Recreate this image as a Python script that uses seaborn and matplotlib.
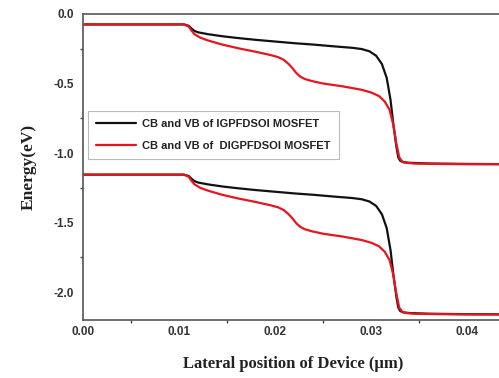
import numpy as np
import pandas as pd
import matplotlib
matplotlib.use("Agg")
import matplotlib.pyplot as plt
import seaborn as sns

# ---- data ----
x_ig = [0.000, 0.0105, 0.0110, 0.0113, 0.0116, 0.0120, 0.0130, 0.0145, 0.0160, 0.0180,
        0.0200, 0.0220, 0.0240, 0.0260, 0.0280, 0.0290, 0.0298, 0.0305, 0.0311, 0.0316,
        0.0320, 0.0323, 0.0326, 0.0328, 0.0330, 0.0333, 0.0340, 0.0360, 0.0400, 0.0450]
cb_ig = [-0.075, -0.075, -0.085, -0.105, -0.122, -0.132, -0.145, -0.16, -0.172, -0.186,
         -0.198, -0.21, -0.22, -0.232, -0.243, -0.252, -0.268, -0.30, -0.36, -0.46,
         -0.62, -0.80, -0.95, -1.03, -1.055, -1.065, -1.07, -1.075, -1.078, -1.08]
vb_ig = [-1.155, -1.155, -1.165, -1.185, -1.202, -1.212, -1.225, -1.24, -1.252, -1.266,
         -1.278, -1.29, -1.30, -1.312, -1.323, -1.332, -1.348, -1.38, -1.44, -1.54,
         -1.70, -1.88, -2.03, -2.11, -2.135, -2.145, -2.15, -2.155, -2.158, -2.16]

x_dig = [0.000, 0.0105, 0.0110, 0.0113, 0.0116, 0.0122, 0.0130, 0.0145, 0.0162, 0.0180,
         0.0195, 0.0203, 0.0209, 0.0214, 0.0218, 0.0222, 0.0226, 0.0231, 0.0238, 0.0250,
         0.0270, 0.0290, 0.0300, 0.0308, 0.0314, 0.0319, 0.0323, 0.0326, 0.0329, 0.0332,
         0.0336, 0.0345, 0.0370, 0.0400, 0.0450]
cb_dig = [-0.075, -0.075, -0.09, -0.12, -0.145, -0.17, -0.19, -0.22, -0.247, -0.272,
          -0.295, -0.31, -0.33, -0.36, -0.39, -0.425, -0.45, -0.468, -0.482, -0.50,
          -0.52, -0.545, -0.565, -0.59, -0.63, -0.69, -0.80, -0.93, -1.03, -1.06,
          -1.07, -1.075, -1.078, -1.08, -1.08]
vb_dig = [-1.155, -1.155, -1.17, -1.20, -1.225, -1.25, -1.27, -1.30, -1.327, -1.352,
          -1.375, -1.39, -1.41, -1.44, -1.47, -1.505, -1.53, -1.548, -1.562, -1.58,
          -1.60, -1.625, -1.645, -1.67, -1.71, -1.77, -1.88, -2.01, -2.11, -2.14,
          -2.15, -2.155, -2.158, -2.16, -2.16]

label_ig = "CB and VB of IGPFDSOI MOSFET"
label_dig = "CB and VB of  DIGPFDSOI MOSFET"

x_ticks = [0.00, 0.01, 0.02, 0.03, 0.04]
y_ticks = [0.0, -0.5, -1.0, -1.5, -2.0]

frames = []
for name, band, xs, ys in [(label_ig, "CB", x_ig, cb_ig), (label_ig, "VB", x_ig, vb_ig),
                           (label_dig, "CB", x_dig, cb_dig), (label_dig, "VB", x_dig, vb_dig)]:
    frames.append(pd.DataFrame({"x": xs, "E": ys, "device": name, "band": band}))
df = pd.concat(frames, ignore_index=True)

sns.set_style("white")
plt.rcParams['font.family'] = ['Liberation Sans', 'DejaVu Sans']

fig = plt.figure(figsize=(4.99, 3.78), dpi=100)
ax = fig.add_axes([83/499, 1 - 320/378, 1 - 83/499 + 0.01, (320 - 14)/378])

palette = {label_ig: "#111111", label_dig: "#e8141e"}
for (dev, band), g in df.groupby(["device", "band"], sort=False):
    sns.lineplot(data=g, x="x", y="E", color=palette[dev], lw=1.6, ax=ax,
                 sort=False, estimator=None,
                 label=dev if band == "CB" else None)

ax.set_xlim(0.0, 0.0438)
ax.set_ylim(-2.2, 0.0)
ax.set_xticks(x_ticks)
ax.set_xticklabels([f"{v:.2f}" for v in x_ticks])
ax.set_yticks(y_ticks)
ax.set_yticklabels([f"{v:.1f}" for v in y_ticks])
ax.set_xticks([0.005, 0.015, 0.025, 0.035], minor=True)
ax.set_yticks([-0.25, -0.75, -1.25, -1.75], minor=True)
ax.tick_params(axis="both", which="major", direction="out", length=5, width=1,
               labelsize=8.5, color="#444444", pad=1.5)
ax.tick_params(axis="x", which="major", length=3.5, pad=1.0)
ax.tick_params(axis="both", which="minor", direction="out", length=2.5, width=1,
               color="#444444", bottom=True, left=True)
for lab in ax.get_xticklabels() + ax.get_yticklabels():
    lab.set_fontweight("bold")
    lab.set_color("#333333")

for side in ["left", "bottom", "top"]:
    ax.spines[side].set_visible(True)
    ax.spines[side].set_color("#555555")
    ax.spines[side].set_linewidth(1.2)
ax.spines["right"].set_visible(False)

ax.set_xlabel("Lateral position of Device (\u03bcm)", family=["Liberation Serif", "DejaVu Serif"],
              fontweight="bold", fontsize=12, color="#222222", labelpad=13)
ax.set_ylabel("Energy(eV)", family=["Liberation Serif", "DejaVu Serif"],
              fontweight="bold", fontsize=12.5, color="#222222", labelpad=12)

leg = ax.legend(loc="upper left", bbox_to_anchor=(0.012, 0.683), frameon=True,
                fancybox=False, edgecolor="#aaaaaa", fontsize=8, handlelength=3.6,
                borderpad=0.7, labelspacing=1.1, handletextpad=0.6, borderaxespad=0)
leg.get_frame().set_linewidth(0.8)
for t in leg.get_texts():
    t.set_fontweight("bold")
    t.set_color("#222222")

fig.savefig("out.png", dpi=100)
